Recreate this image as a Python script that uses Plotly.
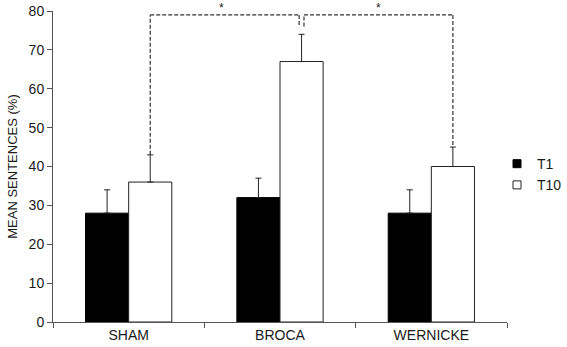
import plotly.graph_objects as go

categories = ["SHAM", "BROCA", "WERNICKE"]
t1_values = [28, 32, 28]
t1_errors = [6, 5, 6]
t10_values = [36, 67, 40]
t10_errors = [7, 7, 5]
y_ticks = [0, 10, 20, 30, 40, 50, 60, 70, 80]
sig_label = "*"
bracket_level = 79
notch_level = 76

bargap = 0.43
bar_w = (1 - bargap) / 2
t10_off = bar_w / 2

font = dict(family="Liberation Sans, Arial, sans-serif", size=13, color="#1a1a1a")

fig = go.Figure()
fig.add_trace(go.Bar(
    x=categories, y=t1_values, name="T1", showlegend=False,
    marker=dict(color="black", line=dict(color="black", width=1)),
    error_y=dict(type="data", array=t1_errors, arrayminus=[0]*3, symmetric=False,
                 color="#222", thickness=1, width=3)))
fig.add_trace(go.Bar(
    x=categories, y=t10_values, name="T10", showlegend=False,
    marker=dict(color="white", line=dict(color="#222", width=1)),
    error_y=dict(type="data", array=t10_errors, arrayminus=[0]*3, symmetric=False,
                 color="#222", thickness=1, width=3)))

# legend entries
fig.add_trace(go.Scatter(x=[None], y=[None], mode="markers", name="T1",
                         marker=dict(symbol="square", size=8, color="black",
                                     line=dict(color="black", width=1))))
fig.add_trace(go.Scatter(x=[None], y=[None], mode="markers", name="T10",
                         marker=dict(symbol="square", size=8, color="white",
                                     line=dict(color="#222", width=1))))

# significance brackets (category index positions)
sham_x = 0 + t10_off
broca_x = 1 + t10_off
wer_x = 2 + t10_off
gap = 0.016
sham_top = t10_values[0] + t10_errors[0]
wer_top = t10_values[2] + t10_errors[2]

dash = dict(color="#333", width=1.2, dash="4px,2px")
left = [(sham_x, sham_top), (sham_x, bracket_level), (broca_x - gap, bracket_level), (broca_x - gap, notch_level)]
right = [(broca_x + gap, notch_level), (broca_x + gap, bracket_level), (wer_x, bracket_level), (wer_x, wer_top)]
shapes = []
for pts in (left, right):
    for (x0, y0), (x1, y1) in zip(pts[:-1], pts[1:]):
        shapes.append(dict(type="line", xref="x", yref="y", x0=x0, y0=y0, x1=x1, y1=y1, line=dash))

annotations = [
    dict(x=(sham_x + broca_x - gap) / 2 - 0.02, y=bracket_level, xref="x", yref="y", text=sig_label,
         showarrow=False, yanchor="bottom", yshift=-2, font=dict(family=font["family"], size=12, color="#222")),
    dict(x=(broca_x + gap + wer_x) / 2, y=bracket_level, xref="x", yref="y", text=sig_label,
         showarrow=False, yanchor="bottom", yshift=-2, font=dict(family=font["family"], size=12, color="#222")),
]

fig.update_layout(
    width=567, height=347,
    margin=dict(l=53, r=60, t=11, b=25, autoexpand=False),
    paper_bgcolor="white", plot_bgcolor="white",
    barmode="group", bargap=bargap, bargroupgap=0,
    font=font,
    shapes=shapes, annotations=annotations,
    legend=dict(x=0.978, y=0.474, xanchor="left", yanchor="middle",
                font=dict(family=font["family"], size=14, color="#1a1a1a"),
                itemwidth=30, tracegroupgap=0, bgcolor="rgba(0,0,0,0)"),
    xaxis=dict(type="category", showline=True, linecolor="#555", linewidth=1,
               ticks="outside", ticklen=5, tickcolor="#555", tickson="boundaries",
               showgrid=False, zeroline=False, range=[-0.5, 2.5], automargin=False,
               tickfont=dict(size=14)),
    yaxis=dict(range=[0, 80], tickvals=y_ticks, showline=True, linecolor="#555", linewidth=1,
               ticks="outside", ticklen=5, tickcolor="#555", showgrid=False, zeroline=False,
               automargin=False,
               title=dict(text="MEAN SENTENCES (%)", font=dict(size=13), standoff=8),
               tickfont=dict(size=14)),
)

fig.write_html("out.html", config={"displayModeBar": False},
               post_script="document.body.style.margin='0';")
